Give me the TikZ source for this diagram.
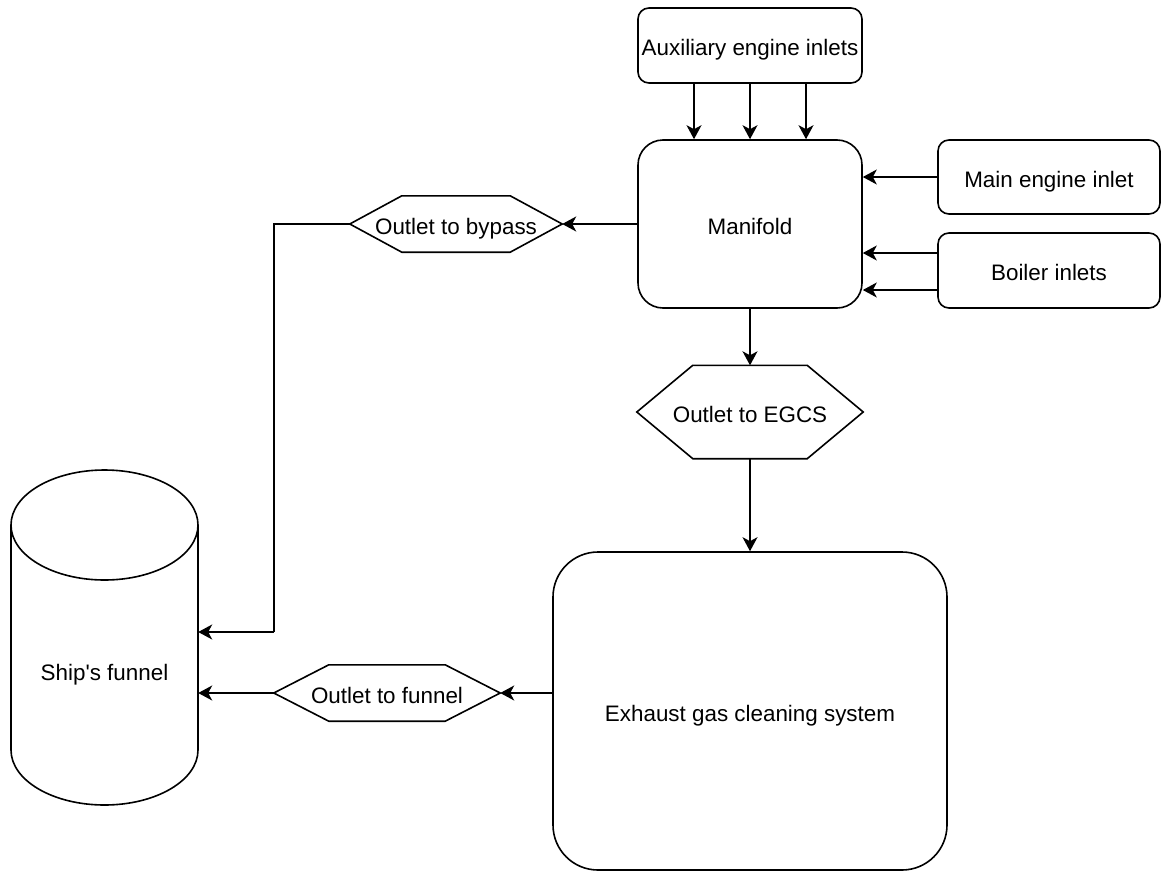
\documentclass[tikz,border=0pt]{standalone}
\usepackage{fontspec}
\setmainfont{Liberation Sans}[Ligatures=TeXOff]
\usetikzlibrary{arrows.meta,calc}
\begin{document}
\begin{tikzpicture}[x=1pt,y=-1pt,
  font=\fontsize{22.4}{27}\selectfont,
  every node/.style={inner sep=0pt, text=black, text height=20pt, text depth=0pt},
  box/.style={draw=black, line width=1.6pt, fill=white, rounded corners=#1},
  box/.default=11pt,
  hexnode/.style={draw=none},
  shapeline/.style={draw=black, line width=1.6pt, fill=white, line join=miter},
  conn/.style={draw=black, line width=1.6pt, -{Stealth[length=14pt,width=15pt,inset=4pt]}},
  plain/.style={draw=black, line width=1.6pt}
]
\fill[white] (0,0) rectangle (1161,870);
\useasboundingbox (0,0) rectangle (1161,870);

% boxes
\node[box, minimum width=224pt, minimum height=75pt] (aux) at (750,45.5) {Auxiliary engine inlets};
\node[box=25pt, minimum width=224pt, minimum height=168pt] (man) at (750,224) {Manifold};
\node[box, minimum width=222pt, minimum height=74pt] (main) at (1049,177) {Main engine inlet};
\node[box, minimum width=222pt, minimum height=75pt] (boil) at (1049,270.5) {Boiler inlets};
\node[box=45pt, minimum width=394pt, minimum height=318pt] (egcs) at (750,711) {Exhaust gas cleaning system};

% hexagons
\node[hexnode, minimum width=212pt, minimum height=56pt] (byp) at (456,224) {};
\draw[shapeline] (byp.west) -- ([xshift=52pt]byp.north west) -- ([xshift=-52pt]byp.north east) -- (byp.east) -- ([xshift=-52pt]byp.south east) -- ([xshift=52pt]byp.south west) -- cycle;
\node (byplabel) at (byp) {Outlet to bypass};

\node[hexnode, minimum width=226pt, minimum height=93pt] (egh) at (750,412) {};
\draw[shapeline] (egh.west) -- ([xshift=56pt]egh.north west) -- ([xshift=-56pt]egh.north east) -- (egh.east) -- ([xshift=-56pt]egh.south east) -- ([xshift=56pt]egh.south west) -- cycle;
\node (eghlabel) at (egh) {Outlet to EGCS};

\node[hexnode, minimum width=226pt, minimum height=56pt] (funh) at (387,693) {};
\draw[shapeline] (funh.west) -- ([xshift=55pt]funh.north west) -- ([xshift=-55pt]funh.north east) -- (funh.east) -- ([xshift=-55pt]funh.south east) -- ([xshift=55pt]funh.south west) -- cycle;
\node (funhlabel) at (funh) {Outlet to funnel};

% funnel cylinder
\node[draw=none, minimum width=187pt, minimum height=335pt] (funnel) at (104.5,637.5) {};
\draw[shapeline] (11,525) -- (11,750) arc[start angle=180,end angle=360,x radius=93.5pt,y radius=55pt] -- (198,525) arc[start angle=0,end angle=180,x radius=93.5pt,y radius=55pt] arc[start angle=180,end angle=360,x radius=93.5pt,y radius=55pt];
\node (funnellabel) at (104.5,670) {Ship's funnel};

% connectors
\foreach \dx in {-56,0,56} {
  \draw[conn] ($(aux.south)+(\dx,0)$) -- ($(man.north)+(\dx,0)$);
}
\draw[conn] (main.west) -- (main.west -| man.east);
\draw[conn] ($(boil.west)+(0,-17.5)$) -- ($(boil.west -| man.east)+(0,-17.5)$);
\draw[conn] ($(boil.west)+(0,19.5)$) -- ($(boil.west -| man.east)+(0,19.5)$);
\draw[conn] (man.west) -- (byp.east);
\coordinate (bend) at (274,632);
\draw[plain] (byp.west) -| (bend);
\draw[conn] (bend) -- (bend -| funnel.east);
\draw[conn] (man.south) -- (egh.north);
\draw[conn] (egh.south) -- (egcs.north);
\draw[conn] (egcs.west |- funh.east) -- (funh.east);
\draw[conn] (funh.west) -- (funh.west -| funnel.east);
\end{tikzpicture}
\end{document}
